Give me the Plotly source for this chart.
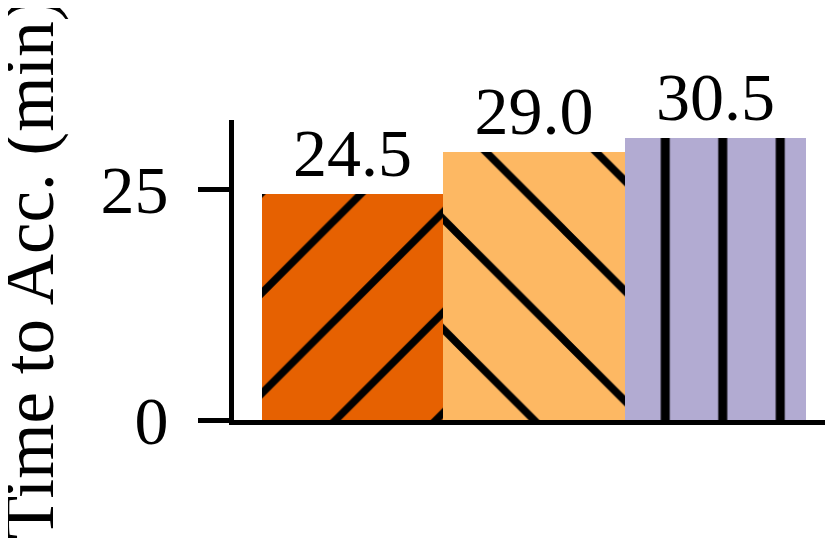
import plotly.graph_objects as go

categories = ['A', 'B', 'C']
values = [24.5, 29.0, 30.5]
labels = ['24.5', '29.0', '30.5']
colors = ['#e66101', '#fdb863', '#b2abd2']
patterns = ['/', '\\', '|']
pattern_sizes = [71, 77.8, 57.5]
pattern_solidity = [0.106, 0.097, 0.157]

font = 'Liberation Serif, Times New Roman, serif'

fig = go.Figure()
# one trace per bar so the pattern keeps a black foreground
for cat, val, lab, col, shp, sz, sol in zip(categories, values, labels, colors,
                                            patterns, pattern_sizes, pattern_solidity):
    fig.add_trace(go.Bar(
        x=[cat],
        y=[val],
        text=[lab],
        textposition='outside',
        textfont=dict(family=font, size=68, color='black'),
        constraintext='none',
        cliponaxis=False,
        marker=dict(
            color=col,
            line=dict(width=0),
            pattern=dict(shape=shp, size=sz, solidity=sol,
                         fgcolor='black', bgcolor=col, fgopacity=1,
                         fillmode='replace'),
        ),
    ))

# page body adds ~8px offset, so margins are shifted to compensate
fig.update_layout(
    width=833, height=545,
    margin=dict(l=226, r=8, t=112, b=133),
    plot_bgcolor='white', paper_bgcolor='white',
    barmode='overlay',
    bargap=0,
    showlegend=False,
    font=dict(family=font, size=68, color='black'),
    xaxis=dict(
        range=[-0.654, 2.649],
        showline=True, linecolor='black', linewidth=5,
        showticklabels=False, ticks='', showgrid=False, zeroline=False,
        automargin=False,
    ),
    yaxis=dict(
        range=[0, 32.5],
        tickvals=[0, 25],
        ticks='outside', ticklen=31, tickwidth=5, tickcolor='black',
        ticklabelstandoff=16,
        showline=True, linecolor='black', linewidth=5,
        showgrid=False, zeroline=False,
        tickfont=dict(family=font, size=68),
        automargin=False,
    ),
    annotations=[dict(
        text='Time to Acc. (min)', textangle=-90,
        xref='paper', yref='paper', x=-0.342, y=0.506,
        xanchor='center', yanchor='middle', showarrow=False,
        font=dict(family=font, size=71, color='black'),
    )],
)

fig.write_html('out.html')
